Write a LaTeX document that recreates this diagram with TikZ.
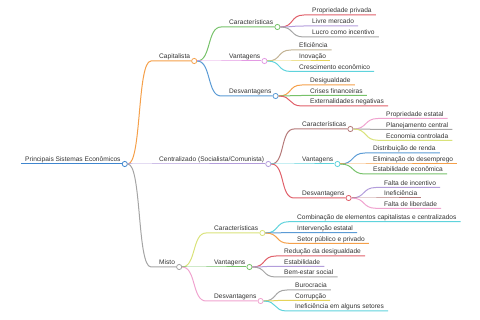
\documentclass[tikz,border=0pt]{standalone}
\usepackage{fontspec}
\setmainfont{Liberation Sans}
\usetikzlibrary{positioning}

\definecolor{rootblue}{HTML}{3F86CF}
\definecolor{mmblue}{HTML}{5B9BD5}
\definecolor{mmorange}{HTML}{F5A04A}
\definecolor{mmlav}{HTML}{B39DDB}
\definecolor{mmgrey}{HTML}{A5A5A5}
\definecolor{mmgreen}{HTML}{77C26A}
\definecolor{mmorchid}{HTML}{E39AE3}
\definecolor{mmmauve}{HTML}{B57A7A}
\definecolor{mmcyan}{HTML}{5FD3DC}
\definecolor{mmred}{HTML}{E0606A}
\definecolor{mmlime}{HTML}{D9E27A}
\definecolor{mmpink}{HTML}{F0A3CF}
\definecolor{mmyellow}{HTML}{E5D35A}
\definecolor{mmtan}{HTML}{C2B394}

\begin{document}
\begin{tikzpicture}[x=1pt, y=-1pt,
    lbl/.style={anchor=south west, inner xsep=4pt, inner ysep=0.4pt, text depth=1.5pt, font=\fontsize{6.6}{8}\selectfont, text=black!80},
    dot/.style={circle, draw=#1, fill=white, line width=0.8pt, inner sep=0pt, minimum size=5.2pt},
    ln/.style={draw=#1, line width=1pt},
    br/.style={out=0, in=180, distance=14pt}
]
\useasboundingbox (0,0) rectangle (480,320);

% root and first level
\node[lbl] (root) at (21,164) {Principais Sistemas Econômicos};
\node[lbl] (cap) at (155,61) {Capitalista};
\node[lbl] (cen) at (155,164) {Centralizado (Socialista/Comunista)};
\node[lbl] (mis) at (155,267) {Misto};

% second level
\node[lbl] (cap-car) at (225,27) {Características};
\node[lbl] (cap-van) at (225,61) {Vantagens};
\node[lbl] (cap-des) at (225,96) {Desvantagens};
\node[lbl] (cen-car) at (298,129) {Características};
\node[lbl] (cen-van) at (298,164) {Vantagens};
\node[lbl] (cen-des) at (298,198) {Desvantagens};
\node[lbl] (mis-car) at (210,233) {Características};
\node[lbl] (mis-van) at (210,267) {Vantagens};
\node[lbl] (mis-des) at (210,301) {Desvantagens};

% circles
\node[dot=rootblue] (root-o) at (root.south east) {};
\node[dot=mmorange] (cap-o) at (cap.south east) {};
\node[dot=mmlav] (cen-o) at (cen.south east) {};
\node[dot=mmgrey] (mis-o) at (mis.south east) {};
\node[dot=mmgreen] (cap-car-o) at (cap-car.south east) {};
\node[dot=mmorchid] (cap-van-o) at (cap-van.south east) {};
\node[dot=mmblue] (cap-des-o) at (cap-des.south east) {};
\node[dot=mmmauve] (cen-car-o) at (cen-car.south east) {};
\node[dot=mmcyan] (cen-van-o) at (cen-van.south east) {};
\node[dot=mmred] (cen-des-o) at (cen-des.south east) {};
\node[dot=mmlime] (mis-car-o) at (mis-car.south east) {};
\node[dot=mmgreen] (mis-van-o) at (mis-van.south east) {};
\node[dot=mmpink] (mis-des-o) at (mis-des.south east) {};

% leaves
\node[lbl] (cap-car-1) at (308,15) {Propriedade privada};
\node[lbl] (cap-car-2) at (308,26) {Livre mercado};
\node[lbl] (cap-car-3) at (308,37) {Lucro como incentivo};
\node[lbl] (cap-van-1) at (295,50) {Eficiência};
\node[lbl] (cap-van-2) at (295,61) {Inovação};
\node[lbl] (cap-van-3) at (295,71.5) {Crescimento econômico};
\node[lbl] (cap-des-1) at (306,85) {Desigualdade};
\node[lbl] (cap-des-2) at (306,95.5) {Crises financeiras};
\node[lbl] (cap-des-3) at (306,106) {Externalidades negativas};
\node[lbl] (cen-car-1) at (382,118.5) {Propriedade estatal};
\node[lbl] (cen-car-2) at (382,129.3) {Planejamento central};
\node[lbl] (cen-car-3) at (382,140.3) {Economia controlada};
\node[lbl] (cen-van-1) at (369,153) {Distribuição de renda};
\node[lbl] (cen-van-2) at (369,164) {Eliminação do desemprego};
\node[lbl] (cen-van-3) at (369,174) {Estabilidade econômica};
\node[lbl] (cen-des-1) at (380,187.5) {Falta de incentivo};
\node[lbl] (cen-des-2) at (380,198) {Ineficiência};
\node[lbl] (cen-des-3) at (380,208.3) {Falta de liberdade};
\node[lbl] (mis-car-1) at (293,221.7) {Combinação de elementos capitalistas e centralizados};
\node[lbl] (mis-car-2) at (293,232.7) {Intervenção estatal};
\node[lbl] (mis-car-3) at (293,243.3) {Setor público e privado};
\node[lbl] (mis-van-1) at (280,256) {Redução da desigualdade};
\node[lbl] (mis-van-2) at (280,266.3) {Estabilidade};
\node[lbl] (mis-van-3) at (280,277) {Bem-estar social};
\node[lbl] (mis-des-1) at (291,290) {Burocracia};
\node[lbl] (mis-des-2) at (291,300.3) {Corrupção};
\node[lbl] (mis-des-3) at (291,311) {Ineficiência em alguns setores};

% branches
\draw[ln=rootblue] (root.south west) -- (root-o);
\draw[ln=mmorange] (root-o) to[br] ([xshift=-4pt]cap.south west) -- (cap-o);
\draw[ln=mmlav] (root-o) to[br] ([xshift=-4pt]cen.south west) -- (cen-o);
\draw[ln=mmgrey] (root-o) to[br] ([xshift=-4pt]mis.south west) -- (mis-o);

\draw[ln=mmgreen] (cap-o) to[br] ([xshift=-4pt]cap-car.south west) -- (cap-car-o);
\draw[ln=mmorchid] (cap-o) to[br] ([xshift=-4pt]cap-van.south west) -- (cap-van-o);
\draw[ln=mmblue] (cap-o) to[br] ([xshift=-4pt]cap-des.south west) -- (cap-des-o);
\draw[ln=mmmauve] (cen-o) to[br] ([xshift=-4pt]cen-car.south west) -- (cen-car-o);
\draw[ln=mmcyan] (cen-o) to[br] ([xshift=-4pt]cen-van.south west) -- (cen-van-o);
\draw[ln=mmred] (cen-o) to[br] ([xshift=-4pt]cen-des.south west) -- (cen-des-o);
\draw[ln=mmlime] (mis-o) to[br] ([xshift=-4pt]mis-car.south west) -- (mis-car-o);
\draw[ln=mmgreen] (mis-o) to[br] ([xshift=-4pt]mis-van.south west) -- (mis-van-o);
\draw[ln=mmpink] (mis-o) to[br] ([xshift=-4pt]mis-des.south west) -- (mis-des-o);

\draw[ln=mmred] (cap-car-o) to[br] ([xshift=-4pt]cap-car-1.south west) -- (cap-car-1.south east);
\draw[ln=mmlav] (cap-car-o) to[br] ([xshift=-4pt]cap-car-2.south west) -- (cap-car-2.south east);
\draw[ln=mmgrey] (cap-car-o) to[br] ([xshift=-4pt]cap-car-3.south west) -- (cap-car-3.south east);
\draw[ln=mmtan] (cap-van-o) to[br] ([xshift=-4pt]cap-van-1.south west) -- (cap-van-1.south east);
\draw[ln=mmyellow] (cap-van-o) to[br] ([xshift=-4pt]cap-van-2.south west) -- (cap-van-2.south east);
\draw[ln=mmcyan] (cap-van-o) to[br] ([xshift=-4pt]cap-van-3.south west) -- (cap-van-3.south east);
\draw[ln=mmorange] (cap-des-o) to[br] ([xshift=-4pt]cap-des-1.south west) -- (cap-des-1.south east);
\draw[ln=mmgreen] (cap-des-o) to[br] ([xshift=-4pt]cap-des-2.south west) -- (cap-des-2.south east);
\draw[ln=mmred] (cap-des-o) to[br] ([xshift=-4pt]cap-des-3.south west) -- (cap-des-3.south east);

\draw[ln=mmpink] (cen-car-o) to[br] ([xshift=-4pt]cen-car-1.south west) -- (cen-car-1.south east);
\draw[ln=mmgrey] (cen-car-o) to[br] ([xshift=-4pt]cen-car-2.south west) -- (cen-car-2.south east);
\draw[ln=mmlime] (cen-car-o) to[br] ([xshift=-4pt]cen-car-3.south west) -- (cen-car-3.south east);
\draw[ln=mmblue] (cen-van-o) to[br] ([xshift=-4pt]cen-van-1.south west) -- (cen-van-1.south east);
\draw[ln=mmorange] (cen-van-o) to[br] ([xshift=-4pt]cen-van-2.south west) -- (cen-van-2.south east);
\draw[ln=mmgreen] (cen-van-o) to[br] ([xshift=-4pt]cen-van-3.south west) -- (cen-van-3.south east);
\draw[ln=mmlav] (cen-des-o) to[br] ([xshift=-4pt]cen-des-1.south west) -- (cen-des-1.south east);
\draw[ln=mmmauve] (cen-des-o) to[br] ([xshift=-4pt]cen-des-2.south west) -- (cen-des-2.south east);
\draw[ln=mmpink] (cen-des-o) to[br] ([xshift=-4pt]cen-des-3.south west) -- (cen-des-3.south east);

\draw[ln=mmcyan] (mis-car-o) to[br] ([xshift=-4pt]mis-car-1.south west) -- (mis-car-1.south east);
\draw[ln=mmblue] (mis-car-o) to[br] ([xshift=-4pt]mis-car-2.south west) -- (mis-car-2.south east);
\draw[ln=mmorange] (mis-car-o) to[br] ([xshift=-4pt]mis-car-3.south west) -- (mis-car-3.south east);
\draw[ln=mmred] (mis-van-o) to[br] ([xshift=-4pt]mis-van-1.south west) -- (mis-van-1.south east);
\draw[ln=mmlav] (mis-van-o) to[br] ([xshift=-4pt]mis-van-2.south west) -- (mis-van-2.south east);
\draw[ln=mmgrey] (mis-van-o) to[br] ([xshift=-4pt]mis-van-3.south west) -- (mis-van-3.south east);
\draw[ln=mmgrey] (mis-des-o) to[br] ([xshift=-4pt]mis-des-1.south west) -- (mis-des-1.south east);
\draw[ln=mmyellow] (mis-des-o) to[br] ([xshift=-4pt]mis-des-2.south west) -- (mis-des-2.south east);
\draw[ln=mmcyan] (mis-des-o) to[br] ([xshift=-4pt]mis-des-3.south west) -- (mis-des-3.south east);
\end{tikzpicture}
\end{document}
